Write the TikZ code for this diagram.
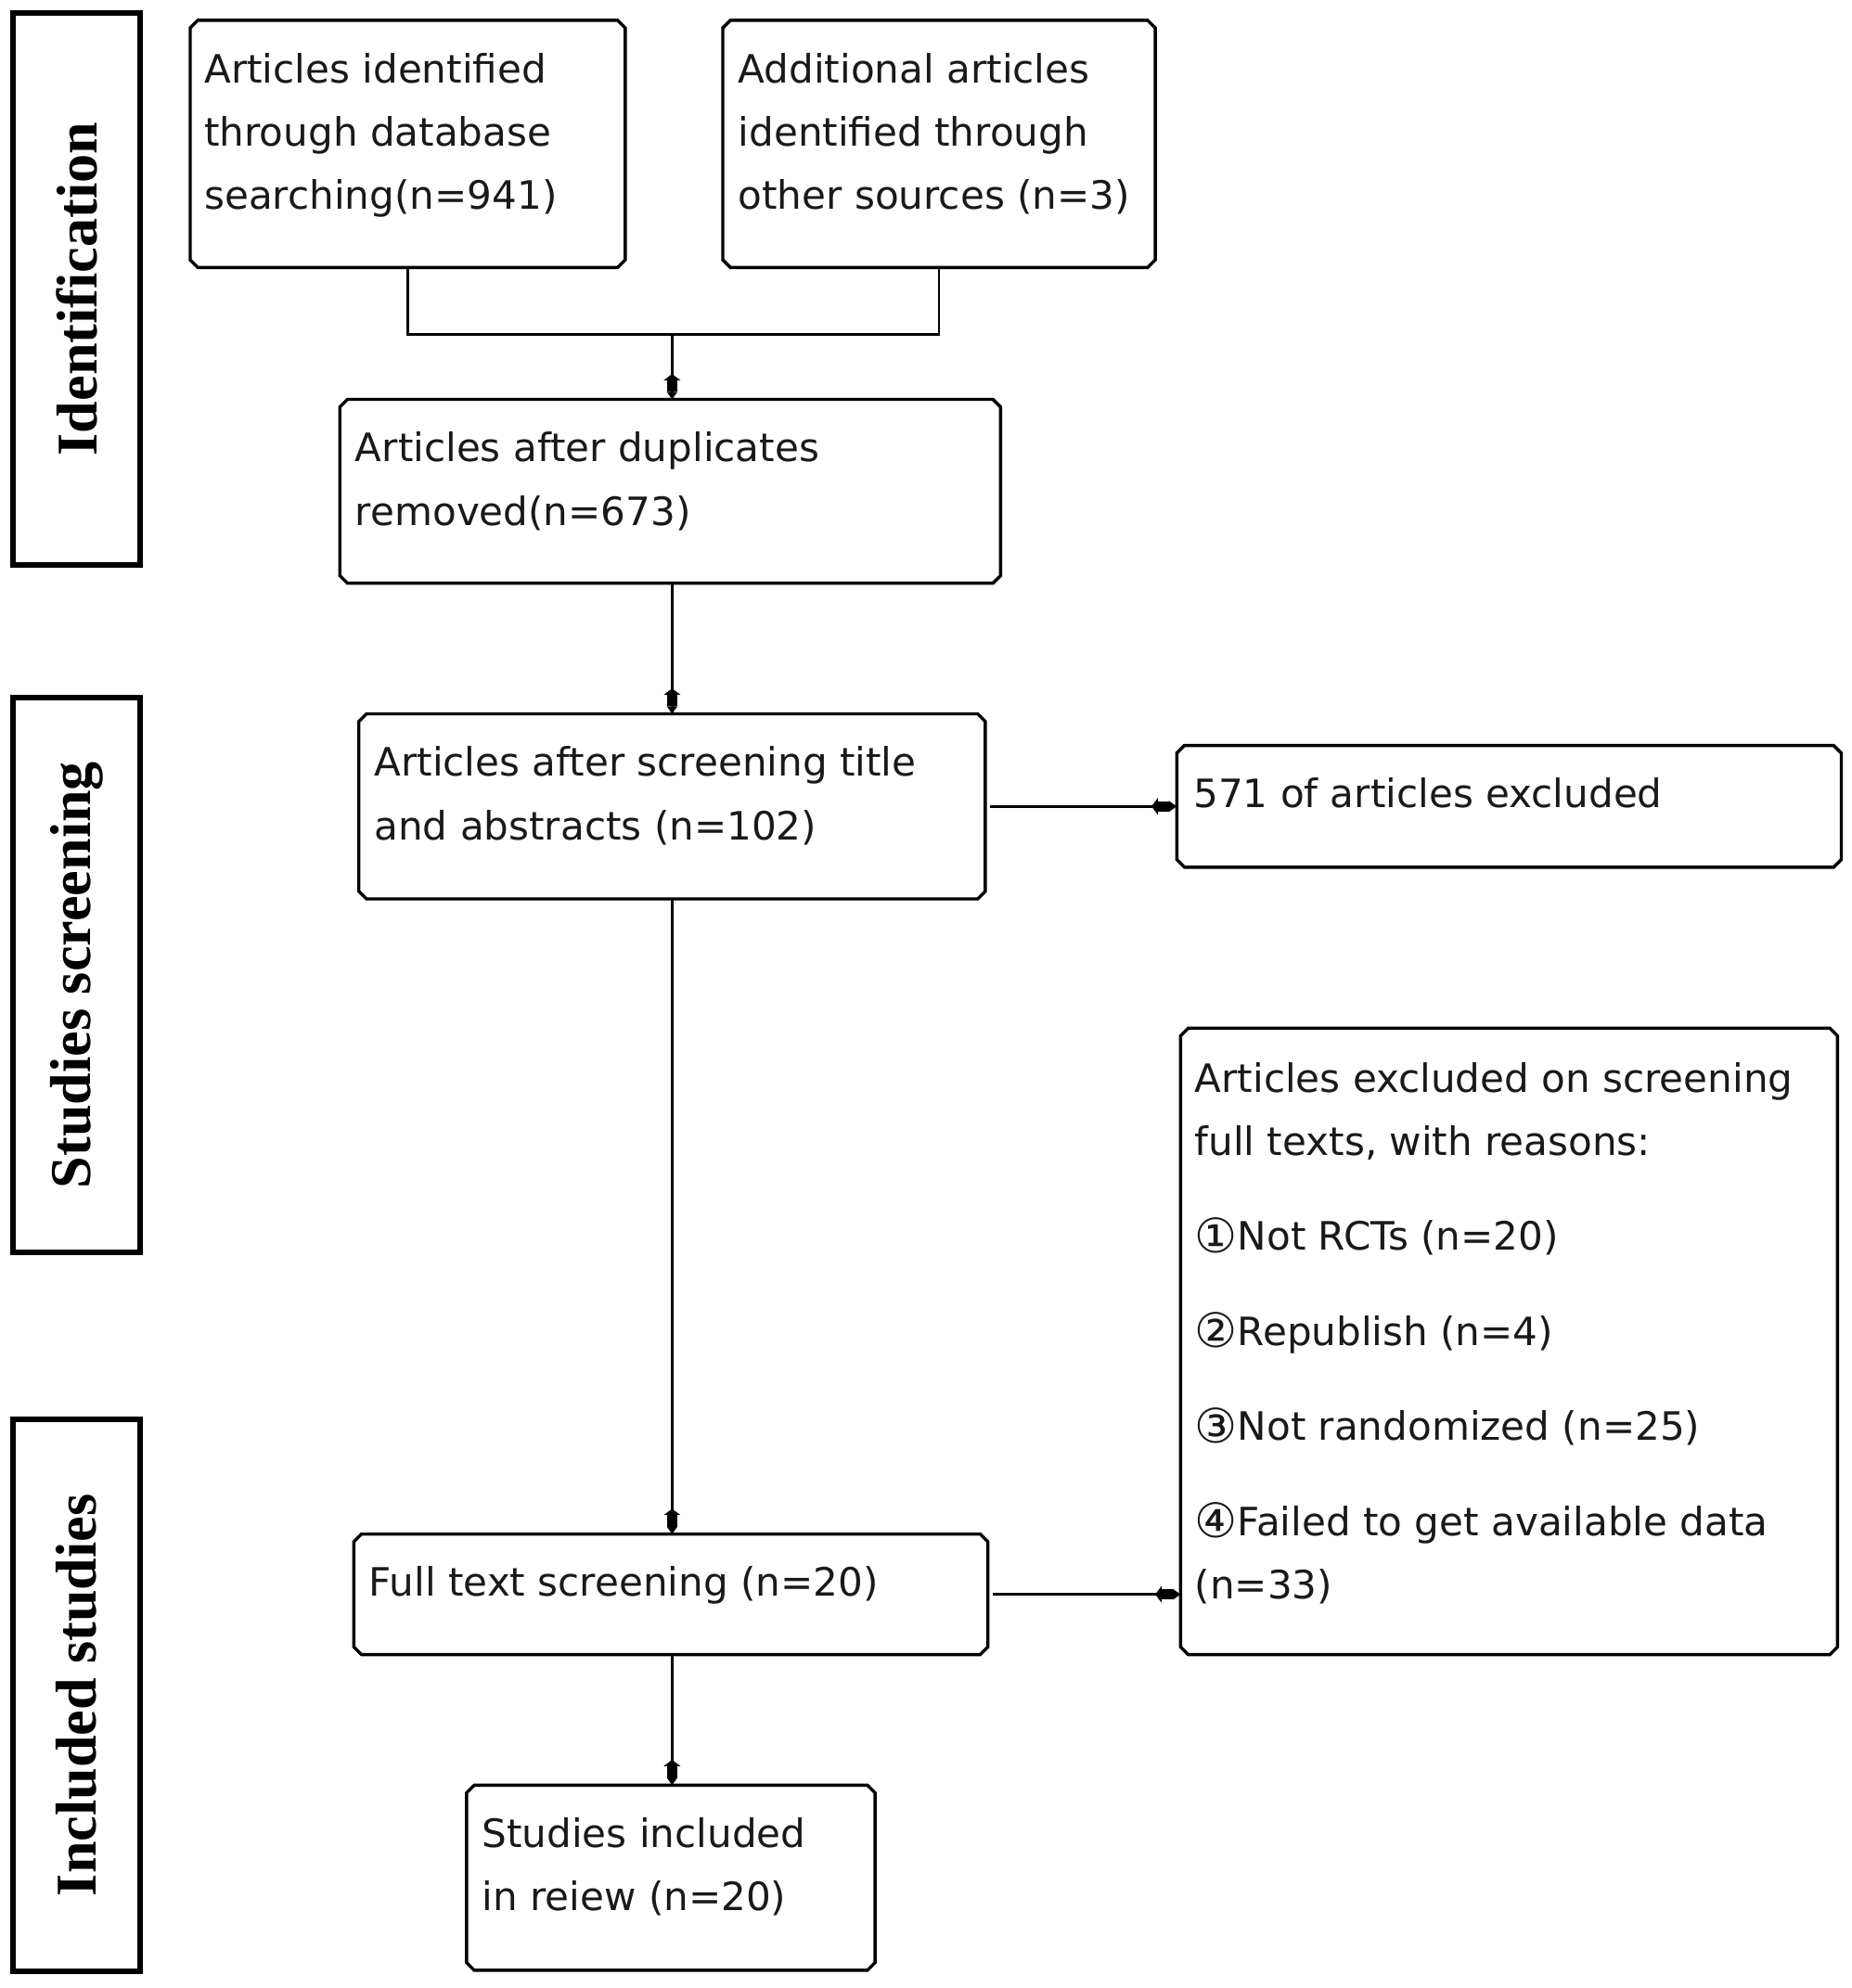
\documentclass[tikz,border=0pt]{standalone}
\usepackage{fontspec}
\usetikzlibrary{arrows.meta,calc}
\newfontfamily\boxfont{DejaVu Sans}
\newfontfamily\sidefont{Liberation Serif}
\newcommand{\chbox}[5]{%
  \node[boxshape, minimum width={#4-#2}, minimum height={#5-#3}] (#1) at ({(#2+#4)/2},{(#3+#5)/2}) {};
  \draw[boxline] ([xshift=6pt]#1.north west) -- ([xshift=-6pt]#1.north east) -- ([yshift=-6pt]#1.north east)
    -- ([yshift=6pt]#1.south east) -- ([xshift=-6pt]#1.south east) -- ([xshift=6pt]#1.south west)
    -- ([yshift=6pt]#1.south west) -- ([yshift=-6pt]#1.north west) -- cycle;
}
\newcommand{\circnum}[1]{\raisebox{-0.06em}{\scalebox{1.22}{#1}}}
\begin{document}
\begin{tikzpicture}[x=1pt,y=-1pt,
  boxshape/.style={rectangle, inner sep=0pt, outer sep=0pt},
  boxline/.style={line width=2.5pt, line join=miter},
  sidebox/.style={draw, line width=4.5pt, rectangle, inner sep=0pt, rotate=90,
    font=\sidefont\bfseries\fontsize{45.5}{50}\selectfont},
  txt/.style={font=\boxfont\fontsize{30.8}{50}\selectfont, align=left, anchor=north west, inner sep=0pt, text=black!90},
  conn/.style={line width=2pt},
  arr/.style={conn, -{Triangle[reversed,length=5pt,width=13pt,sep=0pt]Rectangle[length=9pt,width=8pt,sep=0pt]Triangle[length=6pt,width=8pt]}},
]
\useasboundingbox (0,0) rectangle (1460,1568);
\fill[white] (0,0) rectangle (1460,1568);

% side labels
\node[sidebox, minimum width=435.5pt, minimum height=100.5pt] (s1) at (60.5,228) {Identification};
\node[sidebox, minimum width=437.5pt, minimum height=100.5pt] (s2) at (60.5,769) {Studies screening};
\node[sidebox, minimum width=435.5pt, minimum height=100.5pt] (s3) at (60.5,1337) {Included studies};

% boxes
\chbox{A}{150}{16}{493}{211}
\chbox{B}{570}{16}{911}{211}
\chbox{C}{268}{315}{789}{460}
\chbox{D}{283}{563}{777}{709}
\chbox{E}{928}{588}{1452}{684}
\chbox{F}{279}{1210}{779}{1305}
\chbox{G}{931}{811}{1449}{1305}
\chbox{H}{368}{1408}{690}{1554}

% texts
\node[txt] (At) at ([xshift=11pt,yshift=-25pt]A.north west) {\rule{0pt}{24pt}Articles identified\\through database\\searching(n=941)};
\node[txt] (Bt) at ([xshift=12pt,yshift=-25pt]B.north west) {\rule{0pt}{24pt}Additional articles\\identified through\\other sources (n=3)};
\node[txt] (Ct) at ([xshift=12pt,yshift=-25pt]C.north west) {\rule{0pt}{24pt}Articles after duplicates\\removed(n=673)};
\node[txt] (Dt) at ([xshift=12pt,yshift=-25pt]D.north west) {\rule{0pt}{24pt}Articles after screening title\\and abstracts (n=102)};
\node[txt] (Et) at ([xshift=13pt,yshift=-25pt]E.north west) {\rule{0pt}{24pt}571 of articles excluded};
\node[txt] (Ft) at ([xshift=12pt,yshift=-25pt]F.north west) {\rule{0pt}{24pt}Full text screening (n=20)};
\node[txt] (Gt) at ([xshift=11pt,yshift=-26pt]G.north west) {\rule{0pt}{24pt}Articles excluded on screening\\full texts, with reasons:\\[25pt]\circnum{①}Not RCTs (n=20)\\[25pt]\circnum{②}Republish (n=4)\\[25pt]\circnum{③}Not randomized (n=25)\\[25pt]\circnum{④}Failed to get available data\\(n=33)};
\node[txt] (Ht) at ([xshift=12pt,yshift=-25pt]H.north west) {\rule{0pt}{24pt}Studies included\\in reiew (n=20)};

% connectors
\coordinate (J) at (530,264);
\draw[conn] (A.south) |- (J) -| (B.south);
\draw[arr] (J) -- (J |- C.north);
\draw[arr] (J |- C.south) -- (J |- D.north);
\draw[arr, shorten <=4pt] (D.east) -- (D.east -| E.west);
\draw[arr] (J |- D.south) -- (J |- F.north);
\draw[arr, shorten <=4pt] (F.east) -- (F.east -| G.west);
\draw[arr] (J |- F.south) -- (J |- H.north);
\end{tikzpicture}
\end{document}
